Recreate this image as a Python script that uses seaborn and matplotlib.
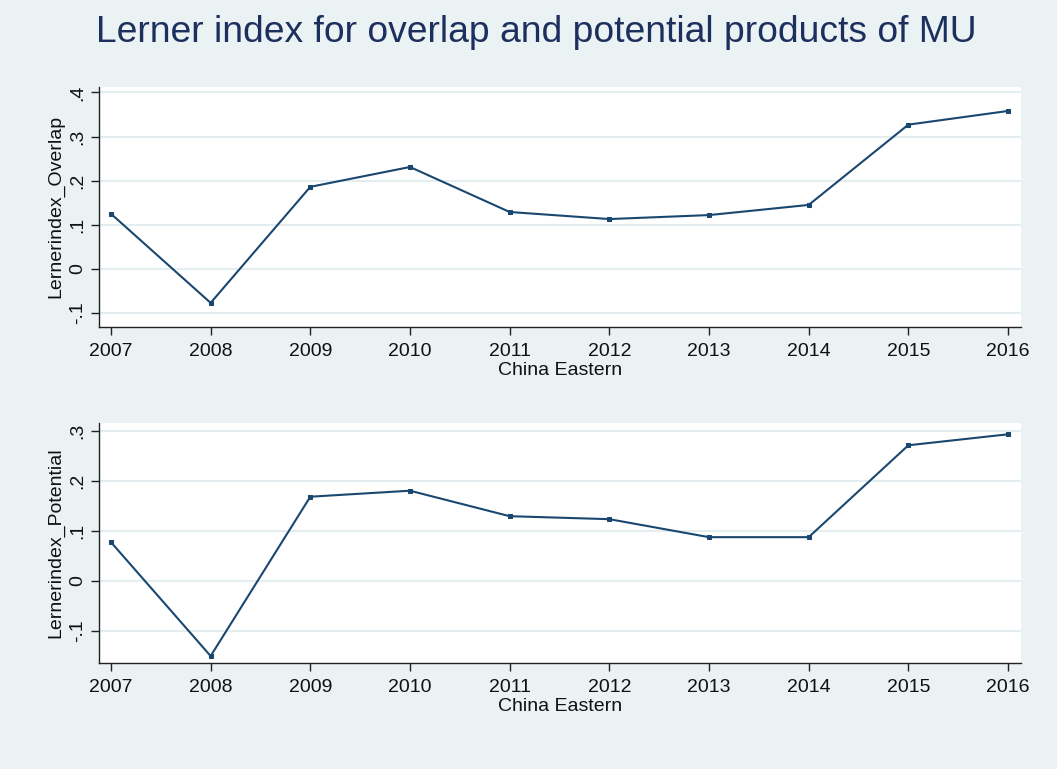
import matplotlib
matplotlib.use("Agg")
import matplotlib.pyplot as plt
import seaborn as sns
import pandas as pd
from matplotlib.ticker import FixedLocator, FixedFormatter

years = [2007, 2008, 2009, 2010, 2011, 2012, 2013, 2014, 2015, 2016]
overlap = [0.125, -0.077, 0.186, 0.231, 0.129, 0.113, 0.122, 0.145, 0.327, 0.358]
potential = [0.077, -0.151, 0.168, 0.180, 0.129, 0.123, 0.087, 0.087, 0.271, 0.293]

title = "Lerner index for overlap and potential products of MU"
xlabel = "China Eastern"
ylabels = ["Lernerindex_Overlap", "Lernerindex_Potential"]
yticks_top = [-0.1, 0, 0.1, 0.2, 0.3, 0.4]
yticklabels_top = ["-.1", "0", ".1", ".2", ".3", ".4"]
yticks_bot = [-0.1, 0, 0.1, 0.2, 0.3]
yticklabels_bot = ["-.1", "0", ".1", ".2", ".3"]

BG = "#eaf2f3"
LINE = "#1a476f"
GRID = "#e4eef0"
TXT = "#111111"

sns.set_style("white")
plt.rcParams["font.family"] = ["Liberation Sans", "DejaVu Sans"]

df = pd.DataFrame({"year": years, "overlap": overlap, "potential": potential})

W, H = 1057, 769
fig = plt.figure(figsize=(W / 100, H / 100), dpi=100, facecolor=BG)

def px_axes(left, top, right, bottom):
    return fig.add_axes([left / W, 1 - bottom / H, (right - left) / W, (bottom - top) / H])

ax1 = px_axes(98.5, 86.7, 1021, 326.7)
ax2 = px_axes(98.5, 423.3, 1021, 663)

specs = [
    (ax1, "overlap", ylabels[0], yticks_top, yticklabels_top, (-0.131, 0.413)),
    (ax2, "potential", ylabels[1], yticks_bot, yticklabels_bot, (-0.165, 0.315)),
]

for ax, col, ylab, yt, ytl, ylim in specs:
    ax.set_facecolor("white")
    sns.lineplot(data=df, x="year", y=col, ax=ax, color=LINE, linewidth=1.5,
                 marker="s", markersize=3.5, markeredgecolor=LINE)
    ax.set_xlim(2006.875, 2016.13)
    ax.set_ylim(*ylim)
    ax.xaxis.set_major_locator(FixedLocator(years))
    ax.xaxis.set_major_formatter(FixedFormatter([str(y) for y in years]))
    ax.yaxis.set_major_locator(FixedLocator(yt))
    ax.yaxis.set_major_formatter(FixedFormatter(ytl))
    for t in yt:
        ax.axhline(t, color=GRID, linewidth=1.5, zorder=0)
    for s in ["top", "right"]:
        ax.spines[s].set_visible(False)
    for s in ["left", "bottom"]:
        ax.spines[s].set_color("#222222")
        ax.spines[s].set_linewidth(1.0)
    ax.tick_params(axis="both", direction="out", length=6, width=1, color="#222222",
                   labelsize=14, labelcolor=TXT, left=True, bottom=True)
    ax.tick_params(axis="x", pad=5.5)
    ax.tick_params(axis="y", pad=3)
    for lbl in ax.get_yticklabels():
        lbl.set_rotation(90)
        lbl.set_va("center")
    ax.set_xlabel(xlabel, fontsize=14, color=TXT, labelpad=1.5)
    ax.set_ylabel(ylab, fontsize=14, color=TXT, labelpad=3)

fig.text(536 / W, 1 - 42.3 / H, title, ha="center", va="baseline", fontsize=26.8, color="#1c2f5e")

fig.savefig("out.png", dpi=100, facecolor=BG)
